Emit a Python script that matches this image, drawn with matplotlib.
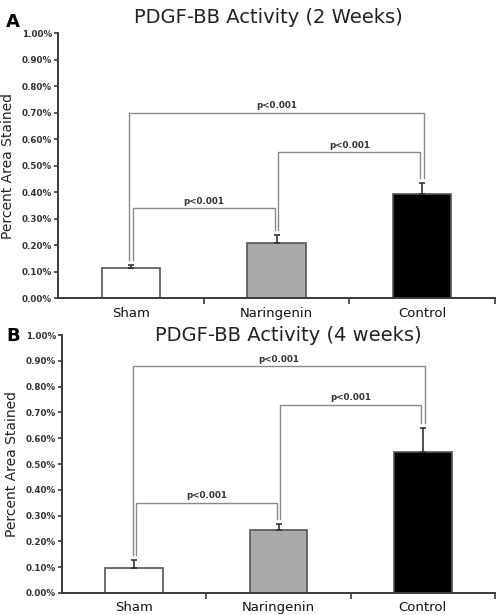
import numpy as np
import matplotlib
matplotlib.use("Agg")
import matplotlib.pyplot as plt

plt.rcParams.update({"font.family": "DejaVu Sans"})

groups = ["Sham", "Naringenin", "Control"]
bar_colors = ["white", "#a9a9a9", "black"]

# percent area stained
mean_2wk = [0.115, 0.207, 0.392]
err_2wk = [0.011, 0.031, 0.043]
mean_4wk = [0.097, 0.243, 0.548]
err_4wk = [0.031, 0.024, 0.092]

# significance brackets: (left group, right group, height)
pairs = [(0, 1), (1, 2), (0, 2)]
br_2wk = [0.34, 0.55, 0.70]
br_4wk = [0.35, 0.73, 0.88]
p_text = ["p<0.001", "p<0.001", "p<0.001"]

yticks = np.round(np.arange(0, 1.01, 0.1), 2)
ytick_labels = [f"{v:.2f}%" for v in yticks]

AX = "#3a3a3a"
BR = "#8a8a8a"

fig = plt.figure(figsize=(5.01, 6.15), dpi=100)
axA = fig.add_axes([0.116, 0.515, 0.872, 0.431])
axB = fig.add_axes([0.124, 0.036, 0.864, 0.419])


def panel(ax, means, errs, brs, title, title_xy, letter, letter_y):
    x = np.arange(len(groups))
    ax.bar(x, means, width=0.4, color=bar_colors, edgecolor="#555555", lw=1.2, zorder=2)
    ax.errorbar(x, means, yerr=[np.zeros(len(errs)), errs], fmt="none",
                ecolor="#333333", elinewidth=1.2, capsize=2.2, capthick=1.2, zorder=3)
    for (i, j), h, t in zip(pairs, brs, p_text):
        outer = (j - i) > 1
        xl = i - 0.012 if outer else i + 0.012
        xr = j + 0.012 if outer else j - 0.012
        yl = means[i] + errs[i] + 0.02
        yr = means[j] + errs[j] + 0.02
        ax.plot([xl, xl, xr, xr], [yl, h, h, yr], color=BR, lw=1.0, zorder=1)
        ax.text((i + j) / 2, h + 0.01, t, ha="center", va="bottom",
                fontsize=6.3, fontweight="bold", color="#333333")
    ax.set_xlim(-0.5, 2.5)
    ax.set_ylim(0, 1.0)
    ax.set_yticks(yticks)
    ax.set_yticklabels(ytick_labels, fontsize=6.3, fontweight="bold", color="#333333")
    ax.set_xticks(x)
    ax.set_xticklabels(groups, fontsize=9.5, color="#111111")
    ax.set_xticks([0.5, 1.5, 2.5], minor=True)
    ax.tick_params(axis="x", which="major", length=0, pad=6)
    ax.tick_params(axis="x", which="minor", length=4, width=1.2, color=AX, direction="out")
    ax.tick_params(axis="y", length=3, width=1.2, color=AX, pad=1.5)
    for s in ["top", "right"]:
        ax.spines[s].set_visible(False)
    for s in ["left", "bottom"]:
        ax.spines[s].set_color(AX)
        ax.spines[s].set_linewidth(1.4)
    ax.set_ylabel("Percent Area Stained", fontsize=10, color="#222222", labelpad=5)
    fig.text(title_xy[0], title_xy[1], title, fontsize=14, color="#222222",
             ha="center", va="center")
    fig.text(0.012, letter_y, letter, fontsize=13, fontweight="bold", va="center")


panel(axA, mean_2wk, err_2wk, br_2wk, "PDGF-BB Activity (2 Weeks)", (0.535, 0.971), "A", 0.965)
panel(axB, mean_4wk, err_4wk, br_4wk, "PDGF-BB Activity (4 weeks)", (0.575, 0.454), "B", 0.454)

fig.savefig("out.png", dpi=100)
